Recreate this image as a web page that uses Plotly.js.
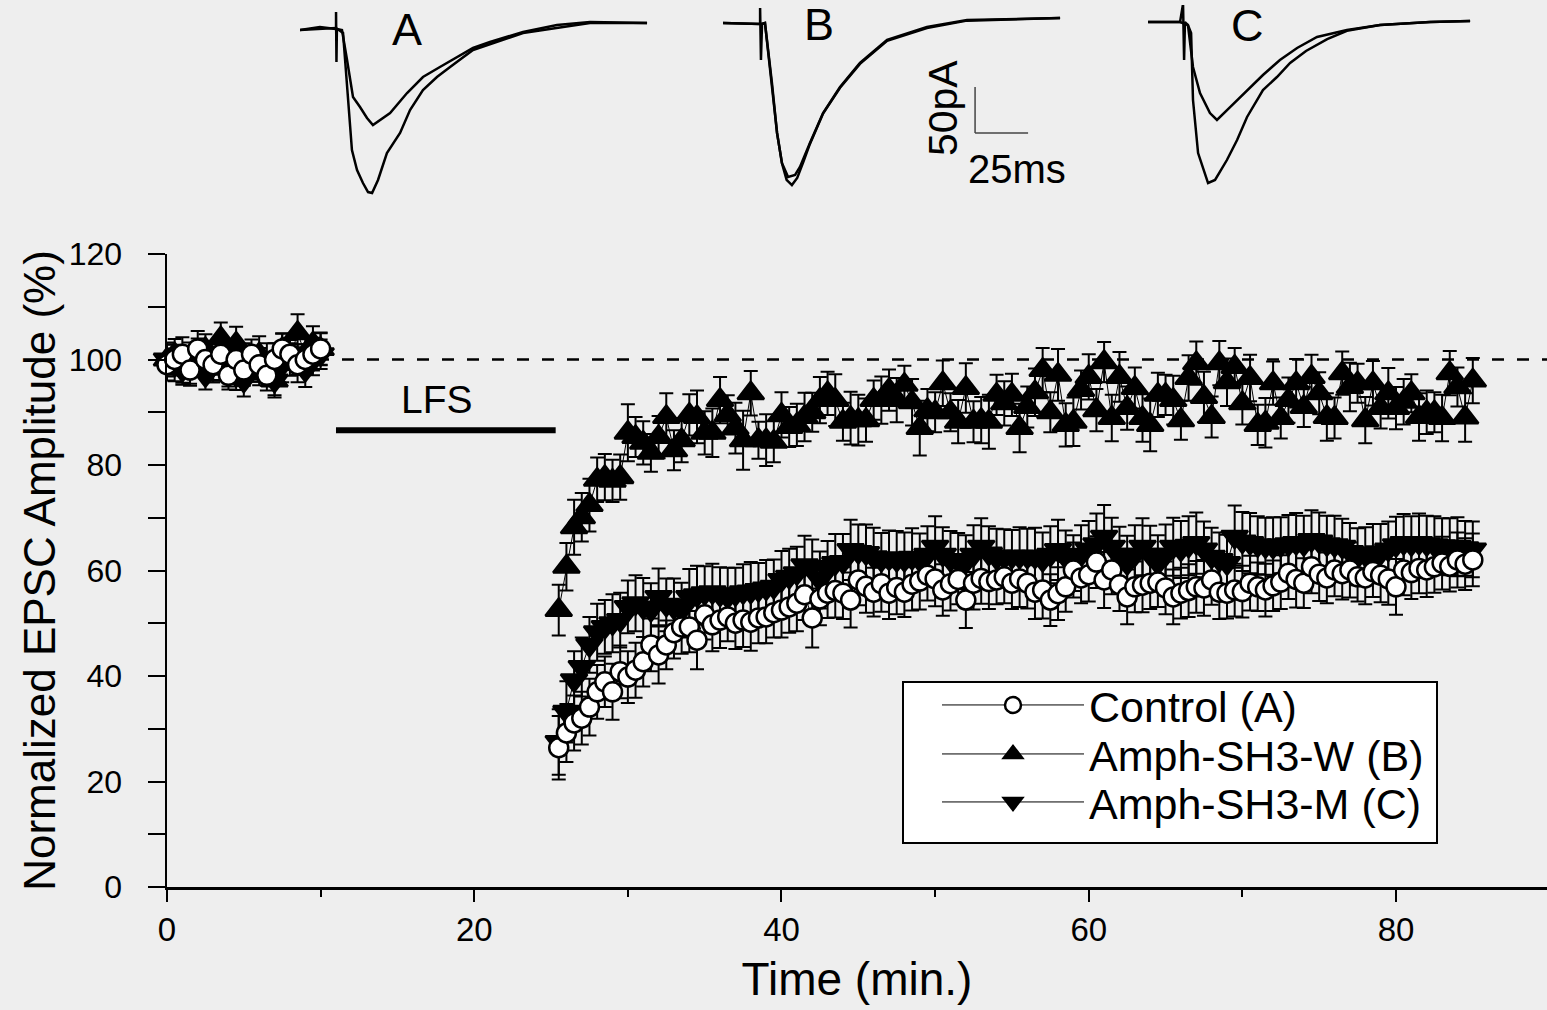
<!DOCTYPE html>
<html>
<head>
<meta charset="utf-8">
<script src="https://cdn.plot.ly/plotly-3.0.1.min.js"></script>
<style>html,body{margin:0;padding:0;background:#eeeeee;}</style>
</head>
<body>
<div id="chart" style="width:1547px;height:1010px;"></div>
<script>
// ---------- main time course data ----------
const seriesNames = ['Control (A)', 'Amph-SH3-W (B)', 'Amph-SH3-M (C)'];

const baseTime = [0,0.5,1,1.5,2,2.5,3,3.5,4,4.5,5,5.5,6,6.5,7,7.5,8,8.5,9,9.5,10];
const postTime = [
  25.5,26,26.5,27,27.5,28,28.5,29,29.5,30,
  30.5,31,31.5,32,32.5,33,33.5,34,34.5,35,
  35.5,36,36.5,37,37.5,38,38.5,39,39.5,40,
  40.5,41,41.5,42,42.5,43,43.5,44,44.5,45,
  45.5,46,46.5,47,47.5,48,48.5,49,49.5,50,
  50.5,51,51.5,52,52.5,53,53.5,54,54.5,55,
  55.5,56,56.5,57,57.5,58,58.5,59,59.5,60,
  60.5,61,61.5,62,62.5,63,63.5,64,64.5,65,
  65.5,66,66.5,67,67.5,68,68.5,69,69.5,70,
  70.5,71,71.5,72,72.5,73,73.5,74,74.5,75,
  75.5,76,76.5,77,77.5,78,78.5,79,79.5,80,
  80.5,81,81.5,82,82.5,83,83.5,84,84.5,85];

// Control (A)
const ctrlBase = [99,100,101,98,102,100,99,101,97,100,98,101,99,97,100,102,101,99,100,101,102];
const ctrlBaseErr = [3.0,2.8,3.2,2.6,3.4,3.0,2.9,3.1,2.7,3.3,3.0,2.8,3.2,2.9,3.1,3.0,2.7,3.3,2.9,3.1,3.0];
const ctrlPost = [
  26.4,29.2,31.1,32.0,34.1,37.0,38.9,37.0,40.8,39.8,
  41.1,42.7,45.9,44.0,45.9,48.2,49.3,49.3,46.8,51.6,
  49.7,50.6,51.2,50.0,50.6,50.2,51.0,51.2,52.0,52.5,
  53.1,53.8,55.4,51.0,54.6,55.7,56.2,55.7,54.4,58.2,
  57.0,55.9,57.5,55.7,56.8,55.9,57.4,58.0,59.1,58.4,
  56.3,57.5,58.3,54.4,57.6,58.5,57.9,58.2,58.8,57.6,
  58.4,57.6,55.9,56.3,54.4,55.6,56.9,60.1,58.6,59.2,
  61.6,58.2,60.1,57.3,55.0,56.9,57.2,57.6,57.8,56.7,
  55.0,55.7,56.2,56.9,56.7,58.2,55.9,55.7,56.3,56.0,
  57.6,56.9,56.3,57.1,57.8,59.5,58.3,57.6,60.7,59.3,
  58.6,60.1,59.4,60.1,58.8,58.6,59.8,59.1,58.4,56.9,
  60.1,59.6,60.4,60.1,60.7,61.4,60.8,62.0,61.2,62.0];
const ctrlPostErr = [
  6.0,5.5,5.2,5.0,5.4,5.1,4.8,5.3,5.0,4.9,
  5.2,4.7,5.0,5.4,4.6,4.9,5.1,4.8,5.5,4.7,
  5.0,5.3,4.6,4.9,5.1,5.4,4.8,5.0,4.7,5.2,
  4.9,5.3,4.8,5.6,5.0,4.7,5.1,4.9,5.2,4.8,
  5.0,4.6,5.3,4.9,5.1,4.7,5.0,5.4,4.8,5.2,
  4.9,5.1,4.7,5.3,5.0,4.8,5.2,4.6,5.0,4.9,
  5.3,4.8,5.1,5.4,4.9,5.0,4.7,5.2,4.8,5.1,
  4.9,5.3,4.6,5.0,5.2,4.8,5.1,4.9,4.7,5.0,
  5.2,4.8,5.0,4.9,5.3,4.7,5.1,4.8,5.0,4.9,
  5.2,4.6,5.0,4.8,5.1,4.9,5.3,4.7,5.0,5.1,
  4.8,5.0,4.9,5.2,4.7,5.0,4.8,5.1,4.9,5.3,
  4.8,5.0,4.7,5.1,4.9,5.0,4.8,5.2,4.9,5.0];

// Amph-SH3-W (B)
const wBase = [100,101,99,98,100,102,99,104,101,103,100,99,101,98,96,102,100,105,101,103,102];
const wBaseErr = [3.2,2.9,3.4,3.0,3.1,2.8,3.3,3.0,2.9,3.2,3.1,2.8,3.4,3.0,3.2,2.9,3.1,3.6,3.0,3.3,3.1];
const wPost = [
  52.5,60.7,68.2,70.1,72.4,77.2,77.7,77.0,77.7,86.1,
  85.3,84.2,82.3,85.3,89.1,82.8,84.7,89.5,89.1,86.1,
  86.1,92.3,89.5,87.0,84.7,93.6,84.7,84.7,84.4,89.5,
  87.2,87.6,89.1,90.0,92.3,93.6,92.3,88.2,88.9,88.5,
  88.5,92.3,92.3,94.2,92.3,95.2,91.9,87.0,90.4,90.0,
  95.5,90.0,88.2,94.6,88.2,88.5,88.2,93.3,91.7,93.3,
  87.0,91.0,93.8,98.0,90.0,97.1,87.6,88.2,94.2,96.7,
  90.4,99.5,88.9,96.7,90.8,94.6,88.9,87.6,93.3,93.3,
  92.3,88.5,96.5,99.3,92.9,89.1,99.3,95.7,98.6,91.7,
  96.5,87.6,88.0,95.5,88.9,92.3,95.5,91.0,96.7,93.6,
  89.1,88.9,97.4,94.8,95.5,88.5,95.5,90.8,93.6,90.8,
  92.0,93.6,89.1,90.0,90.0,88.9,97.4,94.8,89.0,96.0];
const wPostErr = [
  4.8,4.5,5.2,4.6,5.0,4.2,4.4,4.0,4.3,5.4,
  3.8,4.1,3.6,4.0,4.5,3.8,4.2,3.9,5.0,4.1,
  4.6,4.4,3.7,4.8,5.6,4.2,3.5,4.9,3.9,4.3,
  3.8,4.0,4.6,3.7,4.4,4.1,4.9,3.6,5.0,4.8,
  4.1,3.7,4.5,3.9,4.2,3.6,4.4,5.2,4.0,3.8,
  4.3,3.6,4.1,4.7,3.9,4.4,5.1,3.8,4.2,4.0,
  4.6,3.9,4.5,4.2,3.8,4.9,4.1,4.6,3.7,4.3,
  4.0,3.8,4.4,4.7,4.1,3.9,4.5,5.0,4.2,3.8,
  4.6,3.7,4.3,4.1,4.8,3.9,4.2,4.5,3.6,4.0,
  4.4,3.8,4.7,4.1,3.9,4.3,4.6,3.8,4.2,4.0,
  4.5,3.9,4.1,4.6,3.7,4.4,4.2,3.9,4.8,4.0,
  4.3,3.6,4.5,4.1,3.8,4.4,4.2,3.7,4.6,4.3];

// Amph-SH3-M (C)
const mBase = [100,99,98,100,101,97,99,100,98,97,96,99,98,100,96,99,101,100,98,100,101];
const mBaseErr = [2.9,3.1,2.8,3.2,3.0,2.7,3.3,2.9,3.1,2.8,3.0,3.2,2.9,3.1,2.8,3.3,3.0,2.9,3.2,3.0,2.8];
const mPost = [
  27.5,33.2,39.2,41.7,45.9,48.3,49.3,50.0,50.6,53.1,
  53.8,53.0,52.5,55.0,53.5,53.0,52.5,55.0,55.3,55.7,
  55.9,55.4,55.0,55.5,55.9,56.0,56.3,56.6,56.9,58.2,
  58.8,59.5,61.0,60.7,58.2,60.5,61.4,61.6,63.9,63.5,
  63.3,62.5,62.0,62.3,62.0,62.0,62.4,62.0,63.0,64.5,
  63.0,62.0,61.8,61.6,63.0,64.5,63.2,62.4,62.5,62.6,
  62.6,62.6,62.6,62.0,63.0,63.9,62.5,61.4,63.0,64.0,
  65.0,66.4,64.5,63.0,61.4,63.0,64.5,63.0,61.4,63.0,
  64.5,64.0,64.7,65.2,64.0,62.6,62.0,61.4,66.4,65.5,
  65.2,64.8,64.6,64.5,64.8,65.0,65.2,65.0,65.8,65.5,
  65.0,64.8,64.5,63.5,62.6,63.0,63.2,63.3,64.0,64.8,
  65.2,65.0,65.2,65.0,64.8,64.6,64.5,64.5,64.2,64.0];
const mPostErr = [
  6.2,5.8,5.5,5.6,5.3,5.4,5.1,5.5,5.2,5.0,
  5.3,5.6,5.1,5.4,5.0,5.5,5.2,5.3,5.6,5.1,
  5.4,5.2,5.5,5.0,5.3,5.6,5.1,5.4,5.2,5.5,
  5.3,5.0,5.6,5.2,5.4,5.1,5.5,5.3,5.7,5.2,
  5.4,5.6,5.1,5.3,5.5,5.2,5.6,5.0,5.4,5.8,
  5.2,5.5,5.3,5.1,5.6,5.4,5.2,5.5,5.3,5.1,
  5.6,5.3,5.5,5.2,5.4,5.7,5.1,5.3,5.6,5.4,
  5.8,6.0,5.5,5.3,5.2,5.6,5.4,5.5,5.3,5.7,
  5.5,5.4,5.6,5.8,5.3,5.5,5.2,5.4,5.9,5.6,
  5.7,5.5,5.4,5.6,5.3,5.5,5.7,5.4,5.6,5.5,
  5.4,5.6,5.3,5.5,5.4,5.2,5.6,5.5,5.3,5.4,
  5.5,5.3,5.6,5.4,5.5,5.3,5.4,5.6,5.2,5.3];

// reference level and LFS period
const baselineLevel = 100;
const lfsStart = 11.0, lfsEnd = 25.3, lfsLevel = 86.6;

// ---------- inset EPSC sweeps (ms, pA) ----------
const aSmallT = [0,9.4,17,17,17.2,17.4,19.8,22.2,25,28.3,31.6,34.4,37.7,42.5,50.5,58,66,74.1,81.6,89.6,105.2,121.2,136.8,163.7];
const aSmallI = [-2.2,1.1,-1.1,17.4,-37,-1.1,-2.2,-34.8,-75,-85.9,-97.8,-105.4,-100,-92.4,-70.7,-53.3,-42.4,-31.5,-21.7,-15.2,-4.3,3.3,6.5,5.4];
const aLargeT = [0,17,20.3,22.2,24.5,26.9,29.7,32.1,34,36.8,41,47.2,51.9,58,64.6,70.8,81.6,105.2,136.8,163.7];
const aLargeI = [-2.2,0,-5.4,-59.8,-132.6,-154.3,-168.5,-178.3,-179.3,-165.2,-135.9,-114.1,-89.1,-67.4,-53.3,-42.4,-23.9,-5.4,5.4,5.4];

const bOneT = [0,17.5,17.5,17.9,18.4,19.8,23.1,25.5,27.8,30.7,34,36.3,41,47.2,55.2,64.6,77.4,96.2,115.1,159];
const bOneI = [5.4,4.3,21.7,-34.8,4.3,5.4,-59.8,-114.1,-146.7,-162,-159.8,-151.1,-125,-92.4,-64.1,-38,-13,1.1,8.7,10.9];
const bTwoT = [0,17.5,19.8,23.1,25.5,27.8,30,32.5,35,38,41,47.2,55.2,64.6,77.4,96.2,115.1,159];
const bTwoI = [5.4,4.3,5.4,-59.8,-114.1,-147,-165,-170.7,-163,-145,-126,-93,-65,-39,-14,0,8,10.9];

const cSmallT = [0.5,15.6,17,17.5,17.9,19.3,21.7,25,29.7,33,39.2,47.2,54.7,62.7,70.8,80.2,94.3,109.9,133.5,152.4];
const cSmallI = [6.5,6.5,26.1,-34.8,6.5,3.3,-42.4,-70.7,-92.4,-100,-85.9,-67.4,-51.1,-34.8,-21.7,-9.8,-2.2,3.3,6.5,7.6];
const cLargeT = [0.5,15.6,19.3,20.8,21.7,24.1,28.8,32.1,37.7,42.5,47.2,54.7,61.3,67.5,75,85,94.3,109.9,133.5,152.4];
const cLargeI = [6.5,6.5,3.3,-5.4,-78.3,-135.9,-168.5,-165.2,-143.5,-121.7,-96.7,-67.4,-53.3,-38,-25,-12,-3,3.3,6.5,7.6];

const insetLabels = ['A', 'B', 'C'];
const scaleBarPA = 50, scaleBarMS = 25;

// ---------- build traces ----------
const FONT = 'Liberation Sans, Arial, Helvetica, sans-serif';
function series(name, base, baseErr, post, postErr, symbol, fill, size, legendId) {
  return {
    type: 'scatter', mode: 'lines+markers', name: name, legend: legendId,
    x: baseTime.concat([null], postTime),
    y: base.concat([null], post),
    error_y: {type: 'data', array: baseErr.concat([null], postErr), visible: true,
              color: '#000', thickness: 2, width: 7},
    line: {color: '#000', width: 1},
    marker: {symbol: symbol, size: size, color: fill, line: {color: '#000', width: 2.5}},
    cliponaxis: false, connectgaps: false, xaxis: 'x', yaxis: 'y'
  };
}
const traces = [
  series(seriesNames[2], mBase, mBaseErr, mPost, mPostErr, 'triangle-down', '#000', 23, 'legend3'),
  series(seriesNames[1], wBase, wBaseErr, wPost, wPostErr, 'triangle-up', '#000', 23, 'legend2'),
  series(seriesNames[0], ctrlBase, ctrlBaseErr, ctrlPost, ctrlPostErr, 'circle', '#fff', 19, 'legend')
];
function sweep(t, i, xa, ya) {
  return {type: 'scatter', mode: 'lines', x: t, y: i, xaxis: xa, yaxis: ya,
          line: {color: '#000', width: 2.5}, showlegend: false, hoverinfo: 'skip'};
}
traces.push(sweep(aSmallT, aSmallI, 'x2', 'y2'), sweep(aLargeT, aLargeI, 'x2', 'y2'));
traces.push(sweep(bOneT, bOneI, 'x3', 'y3'), sweep(bTwoT, bTwoI, 'x3', 'y3'));
traces.push(sweep(cSmallT, cSmallI, 'x4', 'y4'), sweep(cLargeT, cLargeI, 'x4', 'y4'));

// ---------- layout ----------
const W = 1547, H = 1010, ML = 167, MB = 123;
const plotW = W - ML, plotH = H - MB;
const pxX = px => (px - ML) / plotW;
const pxY = py => (plotH - py) / plotH;
const insetYRange = [-200, 25];
const insetTop = pxY(5), insetBottom = pxY(212);
function insetX(px0, rangeMs, anchor) {
  return {domain: [pxX(px0), pxX(px0 + rangeMs * 2.12)], range: [0, rangeMs], visible: false, anchor: anchor, fixedrange: true};
}
function insetY(anchor) {
  return {domain: [insetBottom, insetTop], range: insetYRange, visible: false, anchor: anchor, fixedrange: true};
}
function legendAt(rowPx) {
  return {x: pxX(903), y: pxY(rowPx), xanchor: 'left', yanchor: 'middle',
          bgcolor: 'rgba(0,0,0,0)', borderwidth: 0,
          font: {size: 43, family: FONT}, itemwidth: 142, indentation: 34};
}

const scaleX0 = 118.9, scaleY0 = -64;

const layout = {
  width: W, height: H,
  paper_bgcolor: '#eeeeee', plot_bgcolor: 'rgba(0,0,0,0)',
  margin: {l: ML, r: 0, t: 0, b: MB, pad: 0},
  font: {family: FONT, color: '#000', size: 32},
  showlegend: true,
  legend: legendAt(705), legend2: legendAt(754), legend3: legendAt(802),
  xaxis: {domain: [0, 1], range: [0, 89.83], anchor: 'y',
          showline: true, linewidth: 2.5, linecolor: '#000',
          ticks: 'outside', ticklen: 12, tickwidth: 2, tickcolor: '#000',
          tick0: 0, dtick: 20, showgrid: false, zeroline: false,
          tickfont: {size: 33}, ticklabelstandoff: 0,
          minor: {dtick: 10, ticks: 'outside', ticklen: 7, tickwidth: 2, tickcolor: '#000', showgrid: false},
          title: {text: 'Time (min.)', font: {size: 46}, standoff: 16}},
  yaxis: {domain: [0, pxY(254)], range: [0, 120], anchor: 'x',
          showline: true, linewidth: 2.5, linecolor: '#000',
          ticks: 'outside', ticklen: 17, tickwidth: 2, tickcolor: '#000',
          tick0: 0, dtick: 20, showgrid: false, zeroline: false,
          tickfont: {size: 32}, ticklabelstandoff: 19,
          minor: {dtick: 10, ticks: 'outside', ticklen: 17, tickwidth: 2, tickcolor: '#000', showgrid: false},
          title: {text: 'Normalized EPSC Amplitude (%)', font: {size: 44}, standoff: 0}},
  xaxis2: insetX(300, 165, 'y2'), yaxis2: insetY('x2'),
  xaxis3: insetX(723, 160, 'y3'), yaxis3: insetY('x3'),
  xaxis4: insetX(1147, 154, 'y4'), yaxis4: insetY('x4'),
  shapes: [
    {type: 'line', xref: 'x', yref: 'y', x0: 0, x1: 89.83, y0: baselineLevel, y1: baselineLevel,
     line: {color: '#000', width: 2.5, dash: '12px,13px'}, layer: 'below'},
    {type: 'line', xref: 'x', yref: 'y', x0: lfsStart, x1: lfsEnd, y0: lfsLevel, y1: lfsLevel,
     line: {color: '#000', width: 6}},
    {type: 'rect', xref: 'paper', yref: 'paper', x0: pxX(903), x1: pxX(1437), y0: pxY(843), y1: pxY(682),
     fillcolor: '#ffffff', line: {color: '#000', width: 2}, layer: 'above'},
    {type: 'line', xref: 'x3', yref: 'y3', x0: scaleX0, x1: scaleX0, y0: scaleY0, y1: scaleY0 - scaleBarPA,
     line: {color: '#444', width: 1.5}},
    {type: 'line', xref: 'x3', yref: 'y3', x0: scaleX0, x1: scaleX0 + scaleBarMS, y0: scaleY0 - scaleBarPA, y1: scaleY0 - scaleBarPA,
     line: {color: '#444', width: 1.5}}
  ],
  annotations: [
    {text: 'LFS', xref: 'x', yref: 'y', x: 17.58, y: 92.5, showarrow: false, font: {size: 39}},
    {text: insetLabels[0], xref: 'x2', yref: 'y2', x: 50.5, y: -1.1, showarrow: false, font: {size: 45}},
    {text: insetLabels[1], xref: 'x3', yref: 'y3', x: 45.3, y: 4.3, showarrow: false, font: {size: 45}},
    {text: insetLabels[2], xref: 'x4', yref: 'y4', x: 47.2, y: 2.2, showarrow: false, font: {size: 45}},
    {text: scaleBarPA + 'pA', xref: 'x3', yref: 'y3', x: 103.8, y: -87, textangle: -90, showarrow: false, font: {size: 41}},
    {text: scaleBarMS + 'ms', xref: 'x3', yref: 'y3', x: 138.7, y: -153.3, showarrow: false, font: {size: 40}}
  ]
};

Plotly.newPlot('chart', traces, layout, {staticPlot: true, displayModeBar: false});
</script>
</body>
</html>
